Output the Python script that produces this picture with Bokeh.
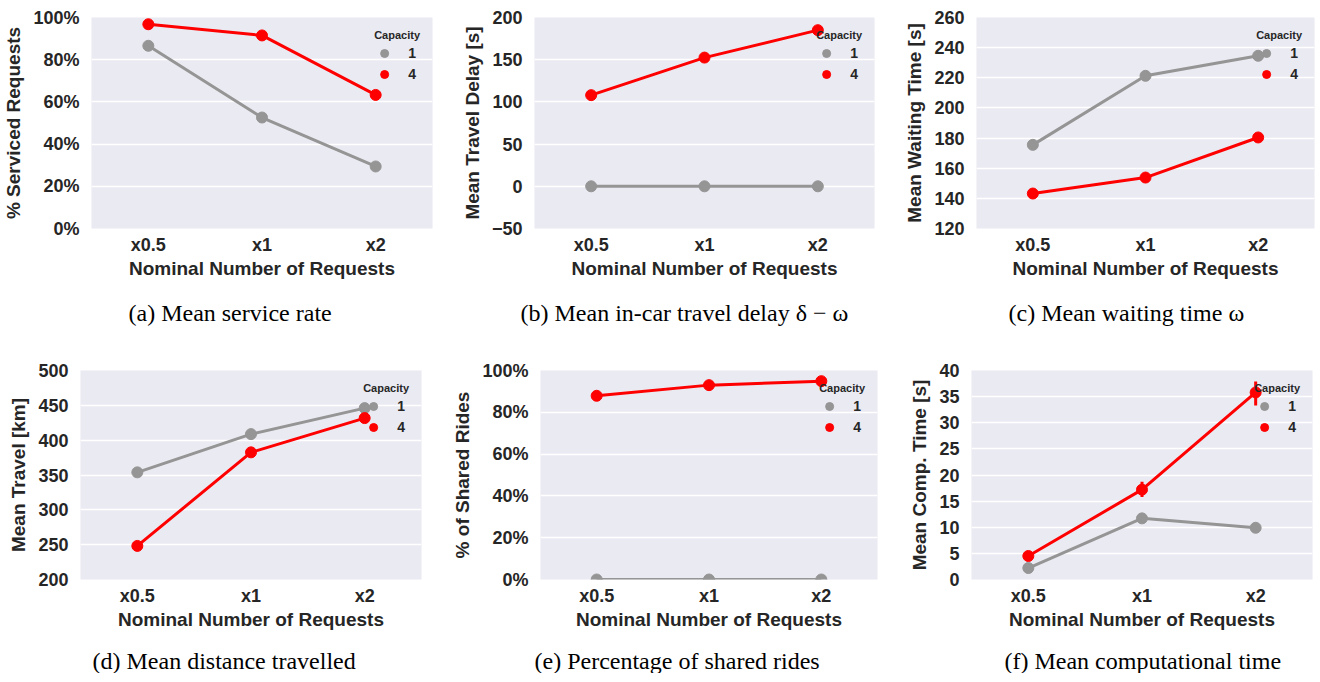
from bokeh.plotting import figure
from bokeh.layouts import column, row
from bokeh.models import (FactorRange, Range1d, FixedTicker, PrintfTickFormatter,
                          Legend, LegendItem, Title)
from bokeh.embed import file_html
from bokeh.resources import INLINE

# ---------------- data ----------------
categories = ["x0.5", "x1", "x2"]
capacities = ["1", "4"]

serviced_cap1 = [86.6, 52.6, 29.4]
serviced_cap4 = [96.8, 91.5, 63.3]

delay_cap1 = [0.0, 0.0, 0.0]
delay_cap4 = [108.0, 152.5, 185.0]

waiting_cap1 = [175.5, 221.3, 234.6]
waiting_cap4 = [143.2, 153.8, 180.4]

travel_cap1 = [353.8, 408.7, 446.0]
travel_cap4 = [248.2, 382.5, 431.7]

shared_cap1 = [0.0, 0.0, 0.0]
shared_cap4 = [87.9, 93.0, 94.9]

comp_cap1 = [2.2, 11.7, 9.9]
comp_cap4 = [4.5, 17.2, 35.8]
comp_cap4_lower = [4.3, 15.8, 33.3]
comp_cap4_upper = [4.7, 18.7, 37.9]

ticks_pct = [0, 20, 40, 60, 80, 100]
ticks_delay = [-50, 0, 50, 100, 150, 200]
ticks_wait = [120, 140, 160, 180, 200, 220, 240, 260]
ticks_travel = [200, 250, 300, 350, 400, 450, 500]
ticks_comp = [0, 5, 10, 15, 20, 25, 30, 35, 40]

GRAY = "#959595"
RED = "#ff0000"
TXT = "#262626"
SANS = "Liberation Sans"
SERIF = "Liberation Serif"


def make_panel(ylabel, ticks, fmt, s1, s4, caption, lb, fw, rb, tb, fh, bb,
               cap_offset, cap_gap, err=None):
    p = figure(x_range=FactorRange(factors=categories, range_padding=0),
               y_range=Range1d(ticks[0], ticks[-1]),
               frame_width=fw, frame_height=fh,
               min_border_left=lb, min_border_right=rb,
               min_border_top=tb, min_border_bottom=bb,
               output_backend="svg", toolbar_location=None)
    p.background_fill_color = "#EAEAF2"
    p.border_fill_color = "white"
    p.outline_line_color = None
    p.xgrid.grid_line_color = None
    p.ygrid.grid_line_color = "white"
    p.ygrid.grid_line_width = 1.5

    p.yaxis.ticker = FixedTicker(ticks=ticks)
    if fmt:
        p.yaxis.formatter = PrintfTickFormatter(format=fmt)
    for ax in (p.xaxis, p.yaxis):
        ax.axis_line_color = None
        ax.major_tick_line_color = None
        ax.minor_tick_line_color = None
        ax.major_label_text_font = SANS
        ax.major_label_text_font_style = "bold"
        ax.major_label_text_font_size = "18px"
        ax.major_label_text_color = TXT
        ax.axis_label_text_font = SANS
        ax.axis_label_text_font_style = "bold"
        ax.axis_label_text_font_size = "19px"
        ax.axis_label_text_color = TXT
    p.xaxis.axis_label = "Nominal Number of Requests"
    p.yaxis.axis_label = ylabel
    p.xaxis.major_label_standoff = 0
    p.xaxis.axis_label_standoff = 0
    p.yaxis.major_label_standoff = 6
    p.yaxis.axis_label_standoff = 6

    p.line(x=categories, y=s1, line_color=GRAY, line_width=3)
    r1 = p.scatter(x=categories, y=s1, size=11, fill_color=GRAY, line_color=GRAY)
    p.line(x=categories, y=s4, line_color=RED, line_width=3)
    if err is not None:
        p.segment(x0=categories, y0=err[0], x1=categories, y1=err[1],
                  line_color=RED, line_width=3)
    r4 = p.scatter(x=categories, y=s4, size=11, fill_color=RED, line_color=RED)

    legend = Legend(items=[LegendItem(label=capacities[0], renderers=[r1]),
                           LegendItem(label=capacities[1], renderers=[r4])],
                    title="Capacity", location="top_right",
                    title_text_font=SANS, title_text_font_size="11px",
                    title_text_font_style="bold", title_text_color=TXT,
                    title_standoff=2,
                    label_text_font=SANS, label_text_font_size="14px",
                    label_text_font_style="bold", label_text_color=TXT,
                    label_standoff=14, label_width=9,
                    glyph_width=20, glyph_height=20,
                    spacing=1, padding=10, margin=2,
                    background_fill_alpha=0, border_line_alpha=0)
    p.add_layout(legend)

    # blank spacer between the axis label and the sub-figure caption
    spacer = Title(text=" ", text_font_size="1px", standoff=cap_gap)
    p.add_layout(spacer, "below")
    t = Title(text=caption, align="left", text_font=SERIF,
              text_font_size="24px", text_font_style="normal",
              text_color="black", offset=cap_offset, standoff=0)
    p.add_layout(t, "below")
    return p


pa = make_panel("% Serviced Requests", ticks_pct, "%d%%", serviced_cap1, serviced_cap4,
                "(a) Mean service rate", 91, 341, 7, 17, 211, 100, 37, 13)
pb = make_panel("Mean Travel Delay [s]", ticks_delay, None, delay_cap1, delay_cap4,
                "(b) Mean in-car travel delay \u03b4 \u2212 \u03c9", 95, 340, 8, 17, 211, 100, -14, 13)
pc = make_panel("Mean Waiting Time [s]", ticks_wait, None, waiting_cap1, waiting_cap4,
                "(c) Mean waiting time \u03c9", 94, 338, 3, 17, 211, 100, 32, 13)

pd_ = make_panel("Mean Travel [km]", ticks_travel, None, travel_cap1, travel_cap4,
                 "(d) Mean distance travelled", 80, 341, 14, 42, 209, 90, 12, 10)
pe = make_panel("% of Shared Rides", ticks_pct, "%d%%", shared_cap1, shared_cap4,
                "(e) Percentage of shared rides", 105, 337, 8, 42, 209, 90, -6, 10)
pf = make_panel("Mean Comp. Time [s]", ticks_comp, None, comp_cap1, comp_cap4,
                "(f) Mean computational time", 86, 341, 5, 42, 209, 90, 33, 10,
                err=(comp_cap4_lower, comp_cap4_upper))

layout = column(row(pa, pb, pc, spacing=0), row(pd_, pe, pf, spacing=0), spacing=0)

open("out.html", "w").write(file_html(layout, INLINE))
